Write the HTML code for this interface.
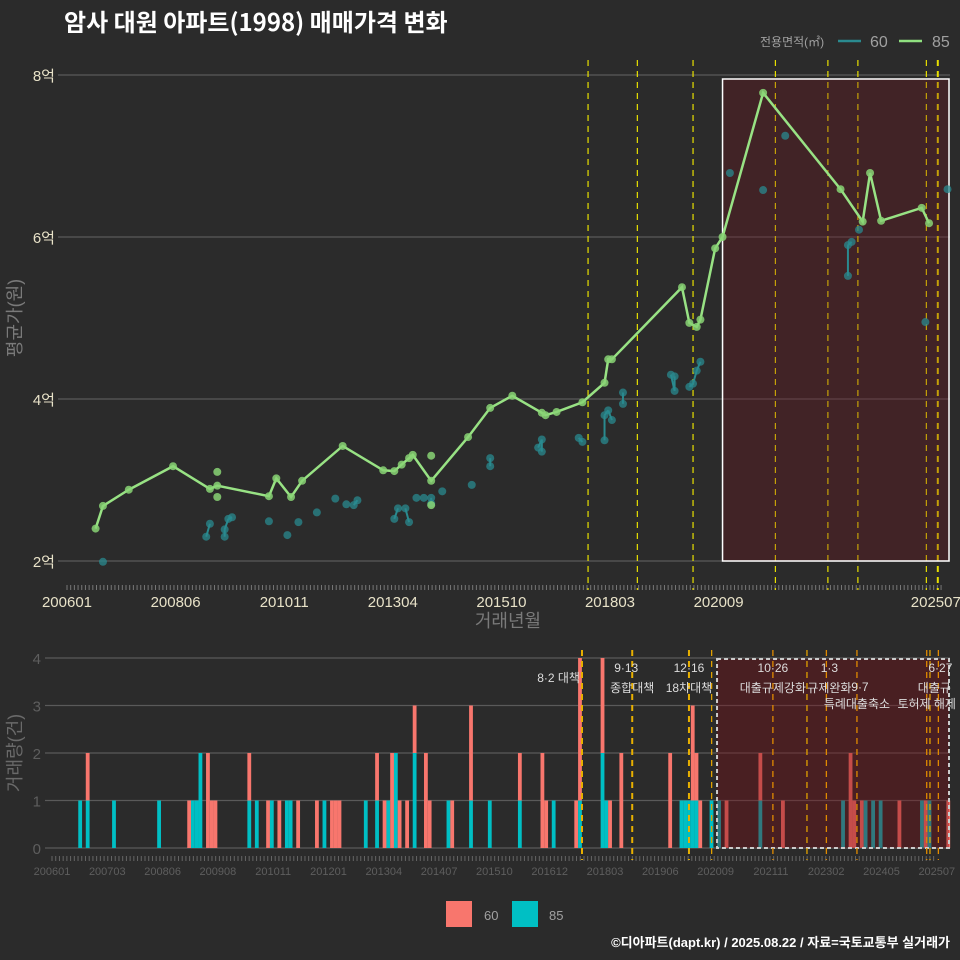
<!DOCTYPE html>
<html><head><meta charset="utf-8">
<style>
html,body{margin:0;padding:0;background:#2b2b2b;}
svg{display:block;font-family:"Liberation Sans","Noto Sans CJK KR",sans-serif;}
</style></head>
<body>
<svg id="chart" width="960" height="960" viewBox="0 0 960 960" xmlns="http://www.w3.org/2000/svg">
<rect width="960" height="960" fill="#2b2b2b"/>
<text x="64" y="31" font-size="24" font-weight="bold" fill="#ffffff" style="font-family:'Noto Sans CJK KR',sans-serif">암사 대원 아파트(1998) 매매가격 변화</text>
<g>
<text x="760" y="46" font-size="12" fill="#a0a0a0">전용면적(㎡)</text>
<line x1="838" y1="41" x2="861" y2="41" stroke="#2a8a8f" stroke-width="2.5"/>
<text x="870" y="47" font-size="16" fill="#a0a0a0">60</text>
<line x1="899" y1="41" x2="922" y2="41" stroke="#90e080" stroke-width="2.5"/>
<text x="932" y="47" font-size="16" fill="#a0a0a0">85</text>
</g>
<text transform="translate(21,318) rotate(-90)" text-anchor="middle" font-size="18" fill="#7a7a7a">평균가(원)</text>
<text x="508" y="627" text-anchor="middle" font-size="18" fill="#7a7a7a">거래년월</text>
<text transform="translate(21,753) rotate(-90)" text-anchor="middle" font-size="18" fill="#6a6a6a">거래량(건)</text>
<g>
<rect x="446" y="901" width="26" height="26" fill="#f8766d"/>
<text x="484" y="920" font-size="13" fill="#a0a0a0">60</text>
<rect x="512" y="901" width="26" height="26" fill="#00bfc4"/>
<text x="549" y="920" font-size="13" fill="#a0a0a0">85</text>
</g>
<text x="950" y="947" text-anchor="end" font-size="13" font-weight="bold" fill="#ffffff">©디아파트(dapt.kr) / 2025.08.22 / 자료=국토교통부 실거래가</text>
<g id="topPanel"></g>
<g id="botPanel"></g>
</svg>
<script>
// ---- data ----
const line85Months = ['2006-06','2006-08','2007-03','2008-03','2009-01','2009-03','2010-05','2010-07','2010-11','2011-02','2012-01','2012-12','2013-03','2013-05','2013-07','2013-08','2014-01','2014-11','2015-05','2015-11','2016-07','2016-08','2016-11','2017-06','2017-12','2018-01','2018-02','2019-09','2019-11','2020-01','2020-02','2020-06','2020-08','2021-07','2023-04','2023-10','2023-12','2024-03','2025-02','2025-04'];
const line85Values = [2.40,2.68,2.88,3.17,2.89,2.93,2.80,3.02,2.79,2.99,3.42,3.12,3.11,3.19,3.27,3.31,2.99,3.53,3.89,4.04,3.83,3.80,3.84,3.96,4.20,4.49,4.49,5.38,4.94,4.89,4.98,5.86,6.00,7.78,6.59,6.19,6.79,6.20,6.36,6.17];
const extra85Months = ['2009-03','2009-03','2014-01','2014-01'];
const extra85Values = [3.10,2.79,3.30,2.69];
const pts60Months = ['2006-08','2008-12','2009-01','2009-05','2009-05','2009-06','2009-07','2010-05','2010-10','2011-01','2011-06','2011-11','2012-02','2012-04','2012-05','2013-03','2013-04','2013-06','2013-07','2013-09','2013-11','2014-01','2014-01','2014-04','2014-12','2015-05','2015-05','2016-06','2016-07','2016-07','2017-05','2017-06','2017-12','2017-12','2018-01','2018-02','2018-05','2018-05','2019-06','2019-07','2019-07','2019-11','2019-12','2020-01','2020-02','2020-10','2021-07','2022-01','2023-06','2023-06','2023-07','2023-09','2025-03','2025-09'];
const pts60Values = [1.99,2.30,2.46,2.30,2.39,2.52,2.54,2.49,2.32,2.48,2.60,2.77,2.70,2.69,2.75,2.52,2.65,2.65,2.48,2.78,2.78,2.78,2.71,2.86,2.94,3.17,3.27,3.40,3.50,3.35,3.52,3.47,3.49,3.80,3.86,3.74,4.08,3.94,4.30,4.10,4.28,4.15,4.19,4.35,4.46,6.79,6.58,7.25,5.52,5.90,5.94,6.09,4.95,6.59];
const volMonths = ['2006-06','2006-08','2007-03','2008-03','2008-11','2008-12','2009-01','2009-02','2009-04','2009-05','2009-06','2010-03','2010-05','2010-08','2010-09','2010-11','2011-01','2011-02','2011-04','2011-09','2011-11','2012-01','2012-02','2012-03','2012-10','2013-01','2013-03','2013-04','2013-05','2013-06','2013-07','2013-09','2013-11','2014-02','2014-03','2014-08','2014-09','2015-02','2015-07','2016-03','2016-09','2016-10','2016-12','2017-06','2017-07','2018-01','2018-02','2018-03','2018-06','2019-07','2019-10','2019-11','2019-12','2020-01','2020-02','2020-03','2020-06','2020-08','2020-10','2021-07','2022-01','2023-05','2023-07','2023-08','2023-10','2023-11','2024-01','2024-03','2024-08','2025-02','2025-03','2025-04','2025-09'];
const vol85 = [1,1,1,1,0,1,1,2,0,0,0,1,1,0,1,0,1,1,0,0,1,0,0,0,1,1,0,1,0,2,0,0,2,0,0,1,0,1,1,1,0,0,1,0,1,2,1,0,0,0,1,1,1,1,1,0,1,1,0,1,0,1,0,0,0,1,1,1,0,1,0,1,0];
const vol60 = [0,1,0,0,1,0,0,0,2,1,1,1,0,1,0,1,0,0,1,1,0,1,1,1,0,1,1,0,2,0,1,1,1,2,1,0,1,2,0,1,2,1,0,1,3,2,0,1,2,2,0,0,0,2,1,1,0,0,1,1,1,0,2,1,1,0,0,0,1,0,1,0,1];
const policyDates = ['2017-08-02','2018-09-13','2019-12-16','2021-10-26','2023-01-03','2023-09-07','2025-03-24','2025-06-27'];
const policyTop = ['8·2','9·13','12·16','10·26','1·3','9·7','','6·27'];
const policyBottom = ['대책','종합대책','18차대책','대출규제강화','규제완화','특례대출축소','토허제 해제','대출규'];
const extraBotDates = ['2020-06-17','2022-07-28','2025-04-20'];
const yTicksTop = [2,4,6,8];
const yTicksBot = [0,1,2,3,4];
const xTickLabelsTop = ['200601','200806','201011','201304','201510','201803','202009','','202507'];
const xTickLabelsBot = ['200601','200703','200806','200908','201011','201201','201304','201407','201510','201612','201803','201906','202009','202111','202302','202405','202507'];
const shadeStart = '2020-08';

// ---- scales ----
const NS='http://www.w3.org/2000/svg';
function mi(s){const p=s.split('-');let v=(+p[0]-2006)*12+(+p[1]-1);if(p[2])v+=(+p[2]-1)/30;else v+=0.5;return v;}
const xT=m=>75.3+m*3.688, yT=v=>75+(8-v)*81;
const xB=m=>59.5+m*3.758, yB=v=>848-v*47.5;
function el(tag,attrs,parent){const e=document.createElementNS(NS,tag);for(const k in attrs)e.setAttribute(k,attrs[k]);parent.appendChild(e);return e;}
const gTop=document.getElementById('topPanel'), gBot=document.getElementById('botPanel');

yTicksTop.forEach(v=>{
 const g=el('line',{x1:58,x2:950,y1:yT(v),y2:yT(v),stroke:'#5a5a5a','stroke-width':1.2},gTop);
 
 
 const t=el('text',{x:55,y:yT(v)+6,'text-anchor':'end','font-size':15,fill:'#e8e2c8'},gTop);
 t.textContent=v+'억';
 
 
});
for(let m=0;m<238;m++){
 const a=el('line',{x1:67+m*3.688,x2:67+m*3.688,y1:585,y2:590,stroke:'#777','stroke-width':1},gTop);
 
 
 const b=el('line',{x1:52+m*3.72,x2:52+m*3.72,y1:856,y2:861,stroke:'#666','stroke-width':1},gBot);
 
 
}
xTickLabelsTop.forEach((s,i)=>{
 const t=el('text',{x:67+i*108.6,y:607,'text-anchor':'middle','font-size':15,fill:'#e8e2c8'},gTop);
 t.textContent=s;
 
 
});
policyDates.forEach((d,i)=>{
 const x=xT(mi(d));
 const l=el('line',{x1:x,x2:x,y1:60,y2:590,stroke:'#e8e000','stroke-width':i==7?2:1.2,'stroke-dasharray':'6,5'},gTop);
 
 
});
const sx=xT(mi(shadeStart));
const sr=el('rect',{x:sx,y:79,width:949-sx,height:482,fill:'rgba(115,16,26,0.3)',stroke:'#ffffff','stroke-width':1.5},gTop);


for(let i=1;i<pts60Months.length;i++){
 const a=mi(pts60Months[i-1]),b=mi(pts60Months[i]);
 if(b-a<=1.01){
  const s=el('line',{x1:xT(a),y1:yT(pts60Values[i-1]),x2:xT(b),y2:yT(pts60Values[i]),stroke:'#2a8a8f','stroke-width':2},gTop);
  
  
 }
}
pts60Months.forEach((m,i)=>{
 const c=el('circle',{cx:xT(mi(m)),cy:yT(pts60Values[i]),r:4,fill:'#2a8a8f','fill-opacity':0.75},gTop);
 
 
});
const pl=el('polyline',{points:line85Months.map((m,i)=>xT(mi(m))+','+yT(line85Values[i])).join(' '),fill:'none',stroke:'#98e284','stroke-width':2.5},gTop);


line85Months.concat(extra85Months).forEach((m,i)=>{
 const v=i<line85Values.length?line85Values[i]:extra85Values[i-line85Values.length];
 const c=el('circle',{cx:xT(mi(m)),cy:yT(v),r:4,fill:'#88d474','fill-opacity':0.85},gTop);
 
 
});

yTicksBot.forEach(v=>{
 const g=el('line',{x1:45,x2:950,y1:yB(v),y2:yB(v),stroke:'#5a5a5a','stroke-width':1.2},gBot);
 
 
 const t=el('text',{x:41,y:yB(v)+6,'text-anchor':'end','font-size':15,fill:'#5e5e5e'},gBot);
 t.textContent=v;
 
 
});
xTickLabelsBot.forEach((s,i)=>{
 const t=el('text',{x:52+i*55.3,y:875,'text-anchor':'middle','font-size':11,fill:'#5e5e5e'},gBot);
 t.textContent=s;
 
 
});
volMonths.forEach((m,i)=>{
 const x=xB(mi(m))-1.9;
 if(vol85[i]>0){
  const r=el('rect',{x:x,y:yB(vol85[i]),width:3.8,height:vol85[i]*47.5,fill:'#00bfc4'},gBot);
  
  
 }
 if(vol60[i]>0){
  const r=el('rect',{x:x,y:yB(vol85[i]+vol60[i]),width:3.8,height:vol60[i]*47.5,fill:'#f8766d'},gBot);
  
  
 }
});
const bx=xB(mi(shadeStart))-2;
const br=el('rect',{x:bx,y:659,width:949-bx,height:189,fill:'rgba(120,14,22,0.4)',stroke:'#cccccc','stroke-width':2,'stroke-dasharray':'4,3'},gBot);


extraBotDates.forEach(d=>{
 const x=xB(mi(d));
 const l=el('line',{x1:x,x2:x,y1:650,y2:860,stroke:'#e0a000','stroke-width':1.3,'stroke-dasharray':'6,5'},gBot);
 
 
});
policyDates.forEach((d,i)=>{
 const x=xB(mi(d));
 const l=el('line',{x1:x,x2:x,y1:650,y2:860,stroke:i<3?'#e8b000':'#e08a00','stroke-width':i<3?2:1.3,'stroke-dasharray':'6,5'},gBot);
 
 
});
const annTopDx=[-8,-6,0,0,3,3,0,2], annTopDy=[0,672,672,672,672,691,0,672];
const annBotDy=[682,692,692,692,692,708,708,692];
const annBotDx=[-8,0,0,0,3,0,0,-4];
policyDates.forEach((d,i)=>{
 const x=xB(mi(d));
 if(i===0){
  const t=el('text',{x:x-2,y:682,'text-anchor':'end','font-size':12,fill:'#dddddd'},gBot);
  t.textContent=policyTop[0]+' '+policyBottom[0];
  
  
  return;
 }
 if(policyTop[i]){
  const t=el('text',{x:x+annTopDx[i],y:annTopDy[i],'text-anchor':'middle','font-size':12,fill:'#dddddd'},gBot);
  t.textContent=policyTop[i];
  
  
 }
 const t2=el('text',{x:x+annBotDx[i],y:annBotDy[i],'text-anchor':'middle','font-size':12,fill:'#dddddd'},gBot);
 t2.textContent=policyBottom[i];
 
 
});
</script>
</body></html>
